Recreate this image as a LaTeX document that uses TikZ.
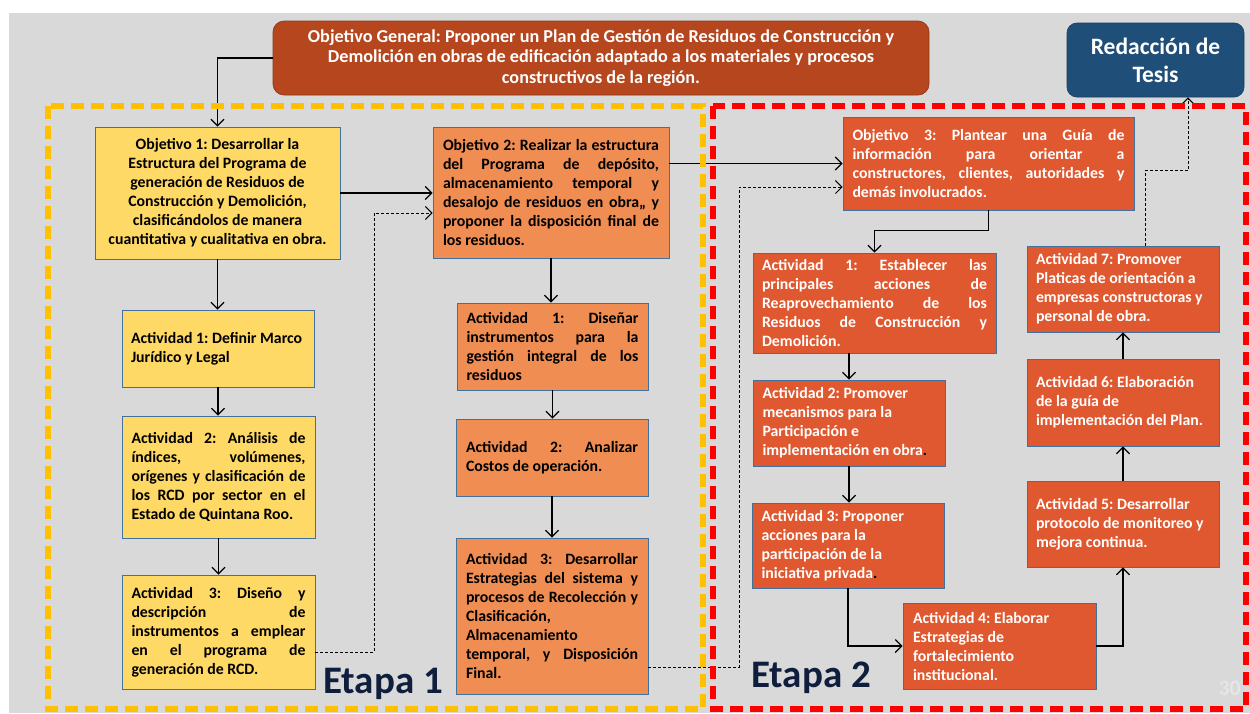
\documentclass[tikz,border=0pt]{standalone}
\usepackage{fontspec}
\setmainfont{Carlito}
\usetikzlibrary{arrows.meta,calc}
\definecolor{bgc}{HTML}{D9D9D9}
\definecolor{genc}{HTML}{B5461E}
\definecolor{tesc}{HTML}{1F4E79}
\definecolor{yfill}{HTML}{FFD966}
\definecolor{ofill}{HTML}{F08D52}
\definecolor{rfill}{HTML}{E0582F}
\definecolor{bord}{HTML}{41719C}
\definecolor{ylw}{HTML}{FFC000}
\definecolor{rdash}{HTML}{FF0000}
\definecolor{etapac}{HTML}{0F1E3C}
\newcommand{\nsp}{\spaceskip=\fontdimen2\font\xspaceskip=\fontdimen2\font\relax}
\newcommand{\jl}[1]{\makebox[\hsize][s]{\spaceskip=0pt\xspaceskip=0pt\relax #1}}
\newcommand{\bxf}{\fontsize{15.8}{19}\selectfont\bfseries\frenchspacing}
\begin{document}
\begin{tikzpicture}[x=1pt,y=-1pt,
  box/.style={draw=bord, line width=0.7pt, inner sep=0pt, font=\bxf, align=left},
  ybox/.style={box, fill=yfill, text=black},
  obox/.style={box, fill=ofill, text=black},
  rbox/.style={box, fill=rfill, text=white},
  conn/.style={line width=1.3pt, draw=black, -{Straight Barb[length=6.5pt,width=13pt]}},
  dconn/.style={line width=1pt, draw=black, dash pattern=on 3pt off 2pt, -{Straight Barb[length=6.5pt,width=13pt]}},
  stage/.style={line width=5.5pt, dash pattern=on 13pt off 7pt},
  etapa/.style={font=\fontsize{39}{41}\selectfont\bfseries, text=etapac, inner sep=0pt}
]
\useasboundingbox (0,0) rectangle (1250,713);
\fill[white] (0,0) rectangle (1250,713);
\fill[bgc] (9,13) rectangle (1250,713);

% top boxes
\node[draw=genc!80!black, line width=0.7pt, fill=genc, rounded corners=11pt, minimum width=656pt, minimum height=74pt,
  text width=640pt, align=center, text=white, font=\fontsize{18.2}{20.5}\selectfont\bfseries\frenchspacing, inner sep=0pt] (gen) at (601,58)
  {\nsp Objetivo General: Proponer un Plan de Gestión de Residuos de Construcción y\\
   Demolición en obras de edificación adaptado a los materiales y procesos\\
   constructivos de la región.};
\node[draw=tesc!80!black, line width=0.7pt, fill=tesc, rounded corners=10pt, minimum width=177pt, minimum height=74pt,
  align=center, text=white, font=\fontsize{23.5}{28}\selectfont\bfseries, inner sep=0pt] (tesis) at (1155.5,60)
  {\nsp Redacción de\\ Tesis};

% Etapa 1 column 1
\node[ybox, minimum width=245pt, minimum height=132pt, text width=230pt, align=center] (o1) at (217.5,193)
  {\nsp Objetivo 1: Desarrollar la\\ Estructura del Programa de\\ generación de Residuos de\\ Construcción y Demolición,\\ clasificándolos de manera\\ cuantitativa y cualitativa en obra.};
\node[ybox, minimum width=192pt, minimum height=77pt, text width=174pt] (a11) at (218,348.5)
  {\nsp Actividad 1: Definir Marco\\ Jurídico y Legal};
\node[ybox, minimum width=193pt, minimum height=122pt, text width=174pt] (a12) at (218.5,477)
  {\nsp\jl{Actividad 2: Análisis de}\\ \jl{índices, volúmenes,}\\ \jl{orígenes y clasificación de}\\ \jl{los RCD por sector en el}\\ Estado de Quintana Roo.};
\node[ybox, minimum width=193pt, minimum height=114pt, text width=174pt] (a13) at (218.5,632)
  {\nsp\jl{Actividad 3: Diseño y}\\ \jl{descripción de}\\ \jl{instrumentos a emplear}\\ \jl{en el programa de}\\ generación de RCD.};

% Etapa 1 column 2
\node[obox, minimum width=236pt, minimum height=131pt, text width=216pt] (o2) at (551,192.5)
  {\nsp\jl{Objetivo 2: Realizar la estructura}\\ \jl{del Programa de depósito,}\\ \jl{almacenamiento temporal y}\\ \jl{desalojo de residuos en obra,, y}\\ \jl{proponer la disposición final de}\\ los residuos.};
\node[obox, minimum width=191pt, minimum height=87pt, text width=172pt] (a21) at (552.5,346.5)
  {\nsp\jl{Actividad 1: Diseñar}\\ \jl{instrumentos para la}\\ \jl{gestión integral de los}\\ residuos};
\node[obox, minimum width=192pt, minimum height=77pt, text width=172pt] (a22) at (552,457.5)
  {\nsp\jl{Actividad 2: Analizar}\\ Costos de operación.};
\node[obox, minimum width=192pt, minimum height=156pt, text width=172pt] (a23) at (552,616)
  {\nsp\jl{Actividad 3: Desarrollar}\\ \jl{Estrategias del sistema y}\\ \jl{procesos de Recolección y}\\ Clasificación,\\ Almacenamiento\\ \jl{temporal, y Disposición}\\ Final.};

% Etapa 2
\node[rbox, minimum width=291pt, minimum height=93pt, text width=272pt] (o3) at (988.5,163.5)
  {\nsp\jl{Objetivo 3: Plantear una Guía de}\\ \jl{información para orientar a}\\ \jl{constructores, clientes, autoridades y}\\ demás involucrados.};
\node[rbox, minimum width=243pt, minimum height=100pt, text width=225pt] (b1) at (874.5,303)
  {\nsp\jl{Actividad 1: Establecer las}\\ \jl{principales acciones de}\\ \jl{Reaprovechamiento de los}\\ \jl{Residuos de Construcción y}\\ Demolición.};
\node[rbox, minimum width=192pt, minimum height=86pt, text width=173pt] (b2) at (849,423)
  {\nsp Actividad 2: Promover\\ mecanismos para la\\ Participación e\\ implementación en obra\textcolor{black}{.}};
\node[rbox, minimum width=192pt, minimum height=85pt, text width=173pt] (b3) at (848,545.5)
  {\nsp Actividad 3: Proponer\\ acciones para la\\ participación de la\\ iniciativa privada\textcolor{black}{.}};
\node[rbox, minimum width=193pt, minimum height=86pt, text width=173pt] (b4) at (999.5,646)
  {\nsp Actividad 4: Elaborar\\ Estrategias de\\ fortalecimiento\\ institucional.};
\node[rbox, minimum width=192pt, minimum height=86pt, text width=174pt] (b5) at (1123,524)
  {\nsp Actividad 5: Desarrollar\\ protocolo de monitoreo y\\ mejora continua.};
\node[rbox, minimum width=192pt, minimum height=87pt, text width=174pt] (b6) at (1123,402.5)
  {\nsp Actividad 6: Elaboración\\ de la guía de\\ implementación del Plan.};
\node[rbox, minimum width=192pt, minimum height=86pt, text width=174pt] (b7) at (1123,289)
  {\nsp Actividad 7: Promover\\ Platicas de orientación a\\ empresas constructoras y\\ personal de obra.};

% connectors
\draw[conn] (gen.west) -| (o1.north);
\draw[conn] (o1.south) -- (o1.south |- a11.north);
\draw[conn] (a11.south) -- (a11.south |- a12.north);
\draw[conn] (a12.south) -- (a12.south |- a13.north);
\draw[conn] (o1.east) -- (o1.east -| o2.west);
\draw[dconn] ([yshift=-20pt]a13.east) -- ++(59,0) |- ([yshift=-20.5pt]o2.west);
\draw[conn] (o2.south) -- (o2.south |- a21.north);
\draw[conn] (a21.south) -- (a21.south |- a22.north);
\draw[conn] (a22.south) -- (a22.south |- a23.north);
\draw[conn] (o3.west -| o2.east) -- (o3.west);
\draw[dconn] ([yshift=-51pt]a23.east) -- ++(91,0) |- ([yshift=-23.5pt]o3.west);
\draw[conn] (o3.south) -- ++(0,20) -| (b1.north);
\draw[conn] (b2.north |- b1.south) -- (b2.north);
\draw[conn] (b2.south) -- (b2.south |- b3.north);
\draw[conn] (b3.south) |- (b4.west);
\draw[conn] (b4.east) -| (b5.south);
\draw[conn] (b5.north) -- (b6.south);
\draw[conn] (b6.north) -- (b7.south);
\draw[dconn] ([xshift=22pt]b7.north) -- ++(0,-75) -| ([xshift=32.5pt]tesis.south);

% stage frames
\draw[stage, draw=ylw] (48,106) rectangle (703,709);
\draw[stage, draw=rdash] (713,106) rectangle (1246,709);

% labels
\node[etapa, anchor=base west] (e1) at (323,693) {Etapa 1};
\node[etapa, anchor=base west] (e2) at (751,687) {Etapa 2};
\node[anchor=base east, inner sep=0pt, text=white, opacity=0.35, font=\fontsize{22}{24}\selectfont\bfseries] (pg) at (1241,695) {30};
\end{tikzpicture}
\end{document}
